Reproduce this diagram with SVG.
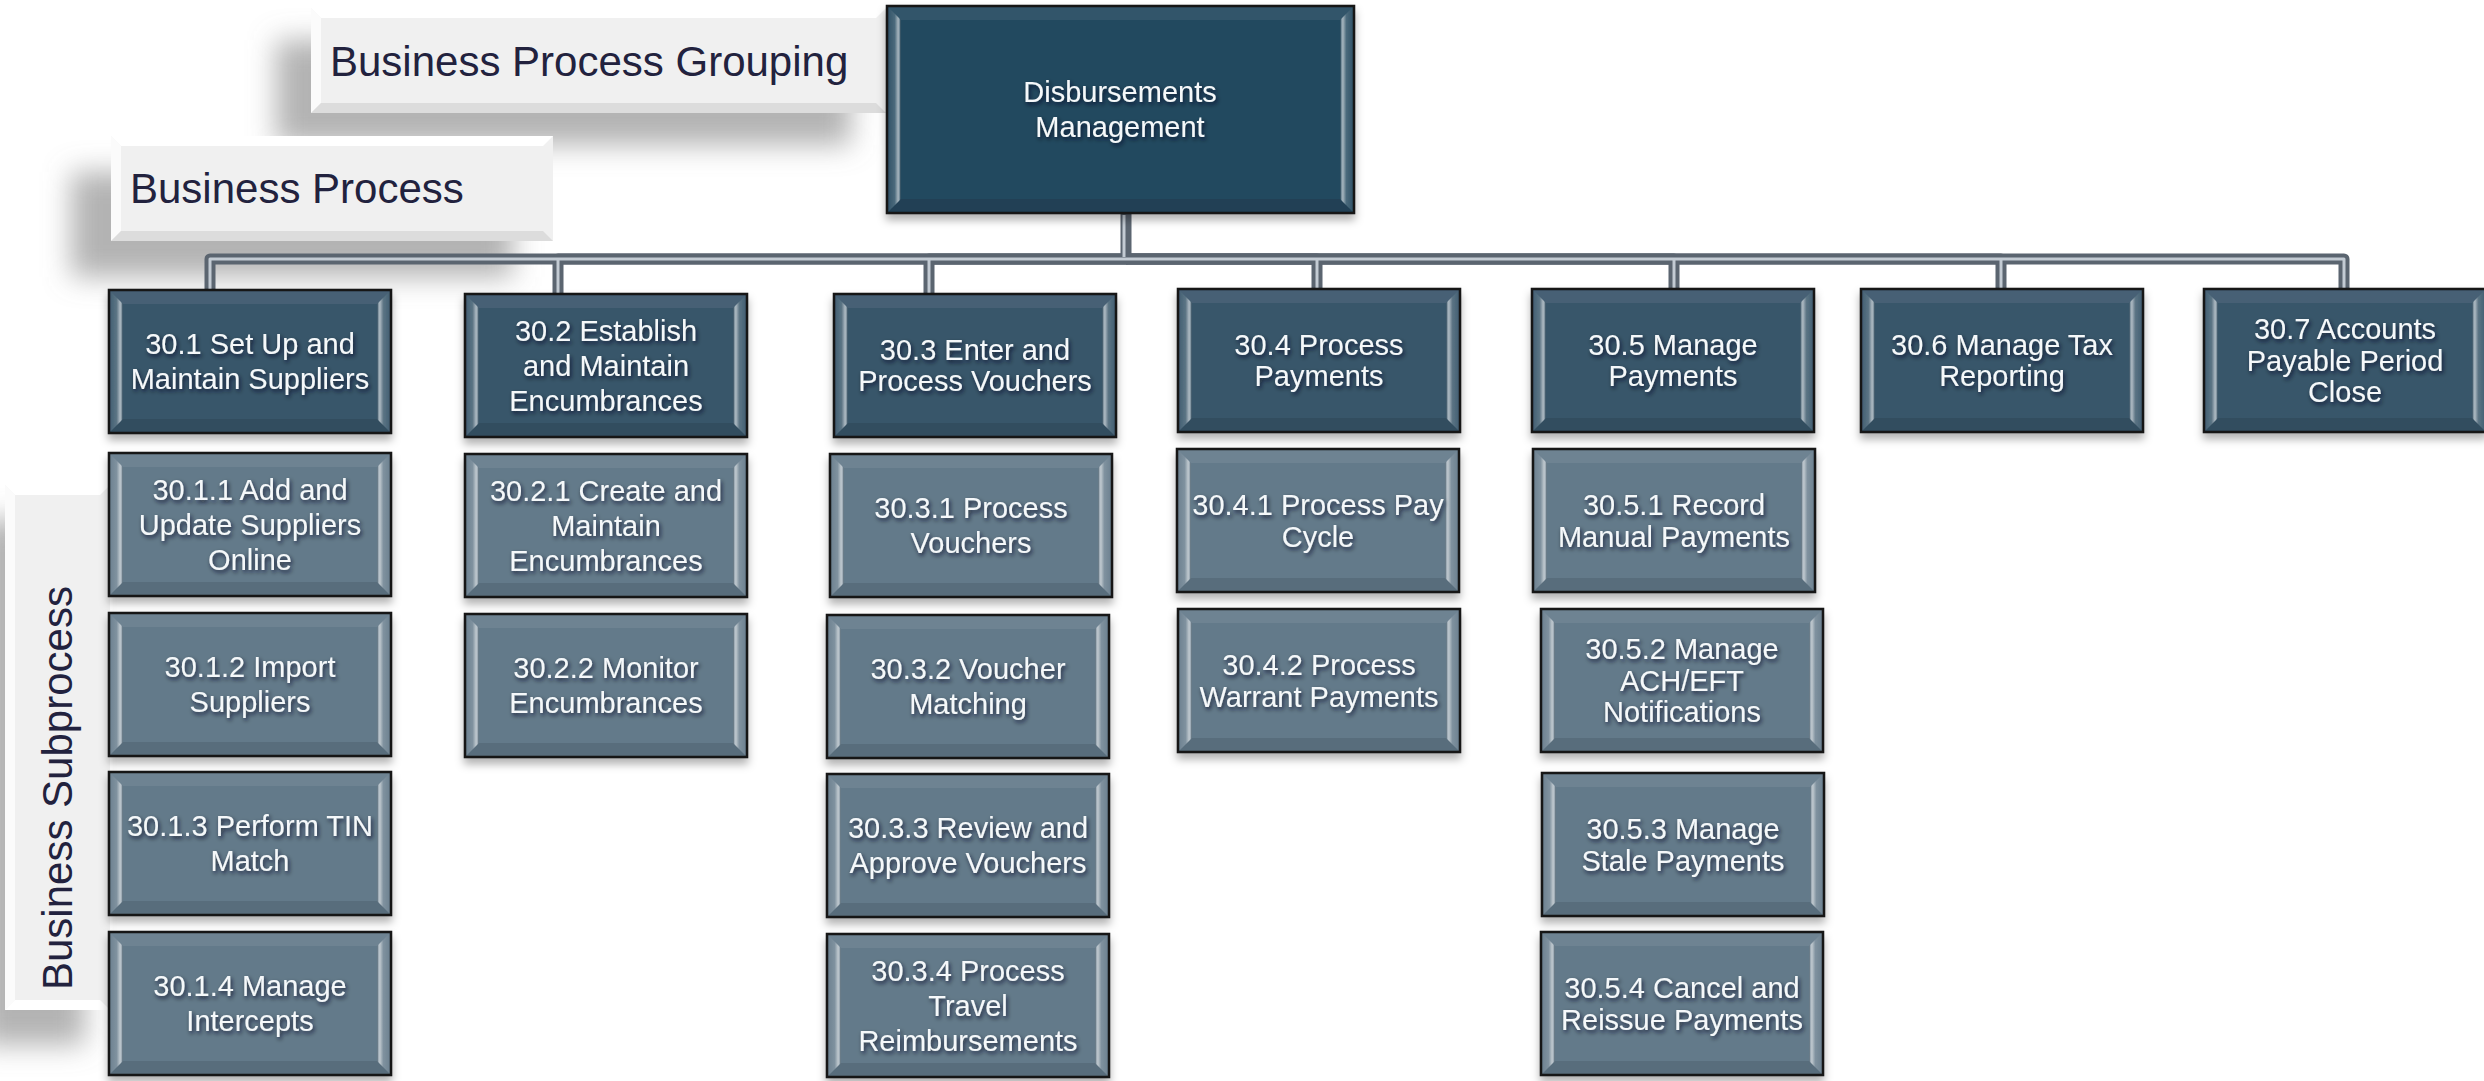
<svg xmlns="http://www.w3.org/2000/svg" xmlns:xlink="http://www.w3.org/1999/xlink" width="2484" height="1081" viewBox="0 0 2484 1081">
<style>
.t{font-family:"Liberation Sans",Arial,sans-serif;font-size:29px;fill:#f5f8fa;text-anchor:middle;filter:url(#ts)}
.h{font-family:"Liberation Sans",Arial,sans-serif;font-size:42px;fill:#22223e}
.l1{fill:#38566a}
.l2{fill:#647a8a}
.nb{filter:url(#ds)}
.co{fill:none;stroke:#5b6570;stroke-width:11;stroke-linejoin:round;stroke-linecap:butt}
.ci{fill:none;stroke:#c3cbd3;stroke-width:3;stroke-linejoin:round}
.hb{fill:#f0f0f0}
.hs{fill:#808080;fill-opacity:.6;filter:url(#blur)}
</style>
<defs>
<filter id="ts" x="-20%" y="-40%" width="140%" height="180%">
<feDropShadow dx="1.5" dy="2.5" stdDeviation="2" flood-color="#0a1824" flood-opacity=".75"/>
</filter>
<filter id="ds" x="-10%" y="-10%" width="120%" height="130%">
<feDropShadow dx="0" dy="6" stdDeviation="4" flood-color="#000" flood-opacity=".3"/>
</filter>
<filter id="blur" x="-30%" y="-30%" width="160%" height="160%">
<feGaussianBlur stdDeviation="14"/>
</filter>
<linearGradient id="gL" x1="0" y1="0" x2="1" y2="0">
<stop offset="0" stop-color="#fff" stop-opacity=".04"/>
<stop offset=".55" stop-color="#fff" stop-opacity=".18"/>
<stop offset=".8" stop-color="#fff" stop-opacity=".6"/>
<stop offset=".93" stop-color="#fff" stop-opacity=".3"/>
<stop offset="1" stop-color="#000" stop-opacity=".1"/>
</linearGradient>
<linearGradient id="gR" x1="1" y1="0" x2="0" y2="0">
<stop offset="0" stop-color="#fff" stop-opacity=".04"/>
<stop offset=".55" stop-color="#fff" stop-opacity=".18"/>
<stop offset=".8" stop-color="#fff" stop-opacity=".6"/>
<stop offset=".93" stop-color="#fff" stop-opacity=".3"/>
<stop offset="1" stop-color="#000" stop-opacity=".1"/>
</linearGradient>
<g id="box">
<rect width="282" height="143"/>
<polygon points="0,0 282,0 268,14 14,14" fill="#fff" fill-opacity=".07"/>
<polygon points="0,143 282,143 268,129 14,129" fill="#000" fill-opacity=".1"/>
<polygon points="0,0 14,14 14,129 0,143" fill="url(#gL)"/>
<polygon points="282,0 268,14 268,129 282,143" fill="url(#gR)"/>
<rect width="282" height="143" fill="none" stroke="#121212" stroke-width="2.5"/>
</g>
</defs>
<rect width="2484" height="1081" fill="#fff"/>

<g id="label-grouping">
<rect class="hs" x="276" y="40" width="575" height="105"/>
<rect class="hb" x="311" y="8" width="575" height="105"/>
<polygon points="311,8 886,8 876,18 321,18" fill="#fff"/>
<polygon points="311,8 321,18 321,103 311,113" fill="#fbfbfb"/>
<polygon points="311,113 886,113 876,103 321,103" fill="#dcdcdc"/>
<text class="h" x="330" y="76">Business Process Grouping</text>
</g>
<g id="label-process">
<rect class="hs" x="71" y="172" width="442" height="105"/>
<rect class="hb" x="111" y="136" width="442" height="105"/>
<polygon points="111,136 553,136 543,146 121,146" fill="#fff"/>
<polygon points="111,136 121,146 121,231 111,241" fill="#fbfbfb"/>
<polygon points="111,241 553,241 543,231 121,231" fill="#dcdcdc"/>
<text class="h" x="130" y="203">Business Process</text>
</g>
<g id="label-subprocess">
<rect class="hs" x="-20" y="520" width="105" height="525"/>
<rect class="hb" x="5" y="485" width="105" height="525"/>
<polygon points="5,485 110,485 100,495 15,495" fill="#fff"/>
<polygon points="5,485 15,495 15,1000 5,1010" fill="#fbfbfb"/>
<polygon points="5,1010 110,1010 100,1000 15,1000" fill="#fff"/>
<text class="h" transform="translate(72,990) rotate(-90)">Business Subprocess</text>
</g>

<g id="connectors">
<path class="co" d="M1126,213 V259 H210 V292"/>
<path class="co" d="M1126,259 H558 V296"/>
<path class="co" d="M1126,259 H929 V296"/>
<path class="co" d="M1126,259 H1317 V291"/>
<path class="co" d="M1126,259 H1674 V291"/>
<path class="co" d="M1126,259 H2001 V291"/>
<path class="co" d="M1126,259 H2344 V291"/>
<path class="ci" d="M1124,215 V257"/>
<path class="ci" d="M1126,259 H210 V292"/>
<path class="ci" d="M558,259 V296"/>
<path class="ci" d="M929,259 V296"/>
<path class="ci" d="M1126,259 H2344 V291"/>
<path class="ci" d="M1317,259 V291"/>
<path class="ci" d="M1674,259 V291"/>
<path class="ci" d="M2001,259 V291"/>
</g>

<g id="n30">
<g class="nb">
<rect x="887" y="6" width="467" height="207" fill="#24495f"/>
<polygon points="887,6 1354,6 1340,20 901,20" fill="#fff" fill-opacity=".07"/>
<polygon points="887,213 1354,213 1340,199 901,199" fill="#000" fill-opacity=".1"/>
<polygon points="887,6 901,20 901,199 887,213" fill="url(#gL)"/>
<polygon points="1354,6 1340,20 1340,199 1354,213" fill="url(#gR)"/>
<rect x="887" y="6" width="467" height="207" fill="none" stroke="#121212" stroke-width="2.5"/>
</g>
<text class="t" x="1120" y="102">Disbursements</text>
<text class="t" x="1120" y="137">Management</text>
</g>

<g id="n30-1"><use href="#box" class="l1 nb" x="109" y="290"/>
<text class="t" x="250" y="354">30.1 Set Up and</text><text class="t" x="250" y="389">Maintain Suppliers</text></g>
<g id="n30-2"><use href="#box" class="l1 nb" x="465" y="294"/>
<text class="t" x="606" y="340.5">30.2 Establish</text><text class="t" x="606" y="375.5">and Maintain</text><text class="t" x="606" y="410.5">Encumbrances</text></g>
<g id="n30-3"><use href="#box" class="l1 nb" x="834" y="294"/>
<text class="t" x="975" y="360">30.3 Enter and</text><text class="t" x="975" y="391">Process Vouchers</text></g>
<g id="n30-4"><use href="#box" class="l1 nb" x="1178" y="289"/>
<text class="t" x="1319" y="355">30.4 Process</text><text class="t" x="1319" y="386">Payments</text></g>
<g id="n30-5"><use href="#box" class="l1 nb" x="1532" y="289"/>
<text class="t" x="1673" y="355">30.5 Manage</text><text class="t" x="1673" y="386">Payments</text></g>
<g id="n30-6"><use href="#box" class="l1 nb" x="1861" y="289"/>
<text class="t" x="2002" y="355">30.6 Manage Tax</text><text class="t" x="2002" y="386">Reporting</text></g>
<g id="n30-7"><use href="#box" class="l1 nb" x="2204" y="289"/>
<text class="t" x="2345" y="339">30.7 Accounts</text><text class="t" x="2345" y="370.5">Payable Period</text><text class="t" x="2345" y="402">Close</text></g>

<g id="n30-1-1"><use href="#box" class="l2 nb" x="109" y="453"/>
<text class="t" x="250" y="499.5">30.1.1 Add and</text><text class="t" x="250" y="534.5">Update Suppliers</text><text class="t" x="250" y="569.5">Online</text></g>
<g id="n30-1-2"><use href="#box" class="l2 nb" x="109" y="613"/>
<text class="t" x="250" y="677">30.1.2 Import</text><text class="t" x="250" y="712">Suppliers</text></g>
<g id="n30-1-3"><use href="#box" class="l2 nb" x="109" y="772"/>
<text class="t" x="250" y="836">30.1.3 Perform TIN</text><text class="t" x="250" y="871">Match</text></g>
<g id="n30-1-4"><use href="#box" class="l2 nb" x="109" y="932"/>
<text class="t" x="250" y="996">30.1.4 Manage</text><text class="t" x="250" y="1031">Intercepts</text></g>

<g id="n30-2-1"><use href="#box" class="l2 nb" x="465" y="454"/>
<text class="t" x="606" y="500.5">30.2.1 Create and</text><text class="t" x="606" y="535.5">Maintain</text><text class="t" x="606" y="570.5">Encumbrances</text></g>
<g id="n30-2-2"><use href="#box" class="l2 nb" x="465" y="614"/>
<text class="t" x="606" y="678">30.2.2 Monitor</text><text class="t" x="606" y="713">Encumbrances</text></g>

<g id="n30-3-1"><use href="#box" class="l2 nb" x="830" y="454"/>
<text class="t" x="971" y="518">30.3.1 Process</text><text class="t" x="971" y="553">Vouchers</text></g>
<g id="n30-3-2"><use href="#box" class="l2 nb" x="827" y="615"/>
<text class="t" x="968" y="679">30.3.2 Voucher</text><text class="t" x="968" y="714">Matching</text></g>
<g id="n30-3-3"><use href="#box" class="l2 nb" x="827" y="774"/>
<text class="t" x="968" y="838">30.3.3 Review and</text><text class="t" x="968" y="873">Approve Vouchers</text></g>
<g id="n30-3-4"><use href="#box" class="l2 nb" x="827" y="934"/>
<text class="t" x="968" y="980.5">30.3.4 Process</text><text class="t" x="968" y="1015.5">Travel</text><text class="t" x="968" y="1050.5">Reimbursements</text></g>

<g id="n30-4-1"><use href="#box" class="l2 nb" x="1177" y="449"/>
<text class="t" x="1318" y="515">30.4.1 Process Pay</text><text class="t" x="1318" y="546.5">Cycle</text></g>
<g id="n30-4-2"><use href="#box" class="l2 nb" x="1178" y="609"/>
<text class="t" x="1319" y="675">30.4.2 Process</text><text class="t" x="1319" y="706.5">Warrant Payments</text></g>

<g id="n30-5-1"><use href="#box" class="l2 nb" x="1533" y="449"/>
<text class="t" x="1674" y="515">30.5.1 Record</text><text class="t" x="1674" y="546.5">Manual Payments</text></g>
<g id="n30-5-2"><use href="#box" class="l2 nb" x="1541" y="609"/>
<text class="t" x="1682" y="659">30.5.2 Manage</text><text class="t" x="1682" y="690.5">ACH/EFT</text><text class="t" x="1682" y="722">Notifications</text></g>
<g id="n30-5-3"><use href="#box" class="l2 nb" x="1542" y="773"/>
<text class="t" x="1683" y="839">30.5.3 Manage</text><text class="t" x="1683" y="870.5">Stale Payments</text></g>
<g id="n30-5-4"><use href="#box" class="l2 nb" x="1541" y="932"/>
<text class="t" x="1682" y="998">30.5.4 Cancel and</text><text class="t" x="1682" y="1029.5">Reissue Payments</text></g>
</svg>
